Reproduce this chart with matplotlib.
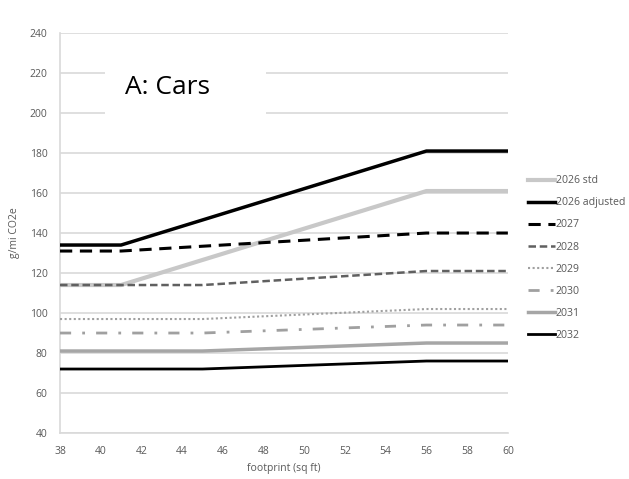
import numpy as np
import matplotlib
matplotlib.use("Agg")
import matplotlib.pyplot as plt
from matplotlib.patches import Rectangle

plt.rcParams['font.family'] = ['Open Sans', 'DejaVu Sans']

# footprint breakpoints (sq ft) and g/mi CO2e values
x_early = [38, 41, 56, 60]
x_late = [38, 45, 56, 60]

std_2026 = [114, 114, 161, 161]
adj_2026 = [134, 134, 181, 181]
y2027 = [131, 131, 140, 140]
y2028 = [114, 114, 121, 121]
y2029 = [97, 97, 102, 102]
y2030 = [90, 90, 94, 94]
y2031 = [81, 81, 85, 85]
y2032 = [72, 72, 76, 76]

labels = ['2026 std', '2026 adjusted', '2027', '2028', '2029', '2030', '2031', '2032']

fig = plt.figure(figsize=(6.29, 4.79), dpi=100)
ax = fig.add_axes([0.0954, 0.096, 0.712, 0.835])

grid_c = '#d9d9d9'
txt_c = '#595959'

ax.plot(x_early, std_2026, color='#c8c8c8', lw=3, label=labels[0], zorder=3)
ax.plot(x_early, adj_2026, color='black', lw=2.5, label=labels[1], zorder=4)
ax.plot(x_early, y2027, color='black', lw=2.2, ls=(0, (4, 2.5)), label=labels[2], zorder=4)
ax.plot(x_late, y2028, color='#606060', lw=1.8, ls=(0, (3, 1.5)), label=labels[3], zorder=4)
ax.plot(x_late, y2029, color='#a0a0a0', lw=1.5, ls=(0, (1, 1.2)), label=labels[4], zorder=4)
ax.plot(x_late, y2030, color='#a0a0a0', lw=2, ls=(0, (4, 4, 1, 4)), label=labels[5], zorder=4)
ax.plot(x_late, y2031, color='#a6a6a6', lw=2.5, label=labels[6], zorder=4)
ax.plot(x_late, y2032, color='black', lw=2, label=labels[7], zorder=4)

ax.set_xlim(38, 60)
ax.set_ylim(40, 240)
ax.set_xticks(np.arange(38, 61, 2))
ax.set_yticks(np.arange(40, 241, 20))
ax.grid(axis='y', color=grid_c, lw=1.2)
ax.set_axisbelow(True)
for s in ['top', 'right']:
    ax.spines[s].set_visible(False)
for s in ['left', 'bottom']:
    ax.spines[s].set_color(grid_c)
    ax.spines[s].set_linewidth(1.2)
ax.tick_params(length=0, colors=txt_c, labelsize=7.5, pad=9)

ax.set_xlabel('footprint (sq ft)', fontsize=7.5, color=txt_c, labelpad=5)
ax.set_ylabel('g/mi CO2e', fontsize=7.5, color=txt_c, labelpad=7)

# white title box covering the grid
ax.add_patch(Rectangle((0.10, 0.77), 0.36, 0.16, transform=ax.transAxes,
                       facecolor='white', edgecolor='none', zorder=5))
ax.text(0.145, 0.865, 'A: Cars', transform=ax.transAxes, fontsize=19, color='black',
        va='center', ha='left', zorder=6)

leg = ax.legend(loc='upper left', bbox_to_anchor=(1.035, 0.655), frameon=False,
                fontsize=7.6, handlelength=2.6, handletextpad=0.05, labelspacing=1.05,
                borderaxespad=0)
for t in leg.get_texts():
    t.set_color(txt_c)

fig.savefig('out.png', dpi=100)
